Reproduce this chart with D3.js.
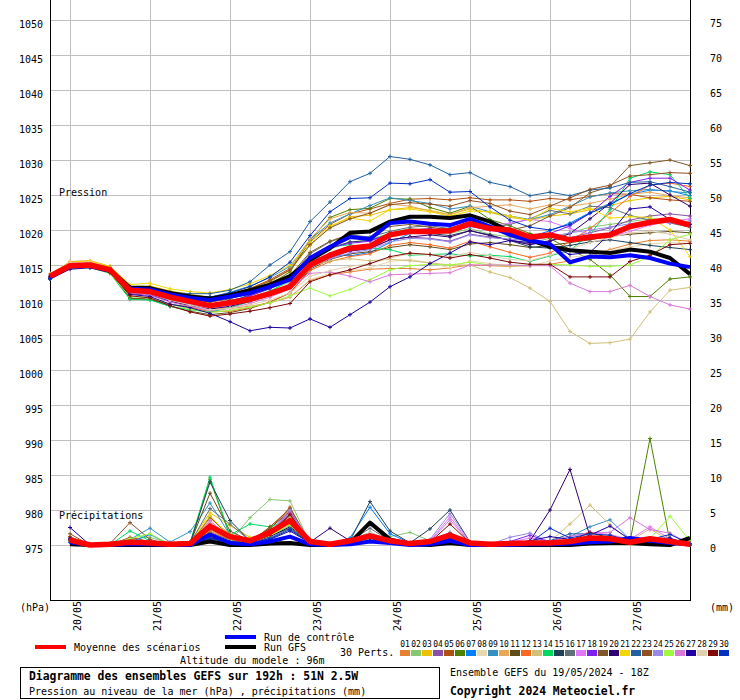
<!DOCTYPE html>
<html><head><meta charset="utf-8">
<script src="https://cdn.jsdelivr.net/npm/d3@7"></script>
<style>
html,body{margin:0;padding:0;background:#fff;}
svg{display:block;}
text{font-family:"DejaVu Sans Mono","Liberation Mono",monospace;fill:#000;}
</style></head><body>
<div id="chart"></div>
<script>
// ---------- DATA ----------
const dayLabels = ['20/05','21/05','22/05','23/05','24/05','25/05','26/05','27/05'];
const dayIdx = [1,5,9,13,17,21,25,29]; // 6-hourly step index of 00Z each day
const presTicks = [975,980,985,990,995,1000,1005,1010,1015,1020,1025,1030,1035,1040,1045,1050];
const precTicks = [0,5,10,15,20,25,30,35,40,45,50,55,60,65,70,75];
const pertColors = ['#e88030','#88c870','#f0c000','#8850a8','#b05010','#508000','#0080ff','#e8d8b0','#3890c0','#e8a858',
  '#604c18','#f86820','#d0c078','#00d860','#204058','#607078','#e078f8','#8020f0','#805828','#300070',
  '#f0d800','#2060a0','#905020','#9888e8','#a0f840','#d878d8','#2000a0','#e0d0b0','#800808','#0030c0'];

// Sea level pressure (hPa), 33 steps of 6 h from 19/05 18Z
const slpMean = [1013.4,1014.9,1015.0,1014.3,1011.4,1011.2,1010.4,1009.8,1009.2,1009.6,1010.1,1010.9,1011.9,1015.0,1016.4,1017.4,1017.7,1019.3,1019.8,1019.8,1019.9,1020.9,1020.2,1020.0,1019.0,1019.3,1018.6,1019.0,1019.3,1020.5,1021.1,1021.5,1020.7];
const slpCtrl = [1013.2,1014.8,1014.9,1014.2,1011.6,1011.5,1010.8,1010.3,1010.0,1010.5,1011.0,1011.9,1012.9,1016.0,1017.6,1019.0,1018.7,1021.0,1021.2,1020.9,1020.7,1021.6,1020.5,1019.3,1018.5,1018.0,1015.4,1016.2,1016.1,1016.4,1016.0,1015.2,1014.7];
const slpGfs  = [1013.3,1014.9,1015.0,1014.3,1011.8,1011.7,1011.0,1010.5,1010.2,1010.7,1011.4,1012.2,1013.4,1015.7,1017.4,1019.6,1019.8,1021.2,1021.9,1021.9,1021.7,1022.1,1021.2,1019.8,1018.6,1017.6,1017.1,1016.9,1016.7,1017.2,1016.9,1016.0,1013.7];
const slp01 = [1013.6,1015.5,1015.6,1014.8,1011.8,1011.4,1010.2,1009.4,1008.7,1008.8,1009.1,1009.6,1010.4,1012.8,1013.6,1014.0,1014.4,1014.5,1014.5,1014.3,1014.6,1015.0,1014.9,1014.8,1014.9,1015.1,1015.6,1016.3,1017.2,1018.0,1018.5,1018.6,1018.4];
const slp02 = [1013.2,1014.7,1015.1,1014.4,1011.0,1010.8,1010.0,1009.5,1009.0,1009.5,1010.3,1011.3,1012.6,1015.8,1017.3,1018.2,1018.6,1019.6,1020.2,1019.9,1019.5,1020.2,1019.4,1019.0,1018.2,1018.8,1019.6,1020.4,1020.8,1021.2,1021.6,1021.4,1020.9];
const slp03 = [1013.3,1015.0,1015.2,1014.6,1011.9,1012.0,1011.3,1010.8,1010.4,1010.9,1011.7,1012.8,1014.2,1017.8,1020.4,1021.9,1022.1,1022.9,1023.2,1022.8,1022.2,1023.0,1022.5,1021.8,1021.4,1022.0,1022.3,1022.9,1023.5,1024.2,1024.6,1024.8,1024.3];
const slp04 = [1013.5,1015.2,1015.3,1014.4,1011.3,1011.0,1010.1,1009.5,1009.0,1009.3,1009.9,1010.7,1011.8,1014.6,1016.0,1017.0,1017.3,1018.6,1019.0,1018.8,1018.4,1019.4,1019.0,1018.6,1018.0,1018.5,1018.9,1019.6,1020.3,1021.4,1022.0,1022.3,1022.0];
const slp05 = [1013.4,1015.1,1015.3,1014.7,1011.9,1011.8,1011.0,1010.5,1010.1,1010.7,1011.6,1012.9,1014.5,1018.3,1020.8,1022.3,1023.0,1023.8,1024.4,1024.5,1024.3,1024.6,1024.3,1024.3,1024.1,1024.5,1024.3,1024.8,1025.2,1025.1,1024.6,1024.3,1024.1];
const slp06 = [1013.0,1014.6,1015.0,1014.3,1010.3,1010.1,1009.4,1009.0,1008.8,1009.6,1010.8,1012.3,1014.0,1018.5,1021.8,1022.9,1023.1,1024.5,1024.4,1023.2,1022.4,1023.4,1021.5,1020.6,1019.5,1018.8,1017.2,1015.8,1013.6,1010.5,1010.5,1013.0,1013.3];
const slp07 = [1013.1,1014.6,1014.9,1014.2,1011.2,1011.1,1010.5,1010.1,1009.8,1010.3,1011.0,1011.8,1013.0,1015.6,1016.5,1016.3,1016.8,1018.2,1019.5,1019.9,1020.3,1021.0,1020.4,1019.8,1019.0,1019.9,1021.0,1022.5,1023.8,1025.1,1025.7,1025.6,1024.9];
const slp08 = [1013.8,1015.4,1015.2,1014.3,1011.2,1010.9,1009.9,1009.2,1008.4,1008.6,1009.0,1009.6,1010.5,1012.9,1013.8,1014.2,1014.6,1015.5,1015.8,1015.3,1014.6,1015.6,1015.2,1014.9,1014.8,1015.6,1016.1,1016.4,1017.0,1017.6,1018.0,1018.2,1018.1];
const slp09 = [1013.2,1014.8,1015.0,1014.5,1011.6,1011.6,1011.0,1010.6,1010.4,1011.1,1012.0,1013.2,1014.8,1018.6,1021.0,1022.3,1023.5,1024.6,1024.2,1023.8,1023.0,1023.4,1022.6,1022.0,1021.5,1022.2,1023.4,1024.7,1025.3,1025.6,1025.8,1025.5,1025.3];
const slp10 = [1013.4,1015.0,1015.4,1014.6,1011.7,1011.4,1010.6,1010.1,1009.7,1010.2,1011.1,1012.5,1014.4,1018.7,1021.6,1022.5,1022.4,1023.7,1023.4,1022.7,1022.2,1023.2,1023.4,1023.6,1023.0,1023.6,1023.4,1023.8,1024.4,1025.1,1025.4,1024.9,1024.6];
const slp11 = [1013.2,1014.7,1014.8,1013.9,1010.2,1010.1,1009.1,1008.4,1007.9,1008.2,1008.8,1009.7,1011.0,1014.4,1015.8,1016.6,1016.9,1017.5,1017.9,1017.6,1017.2,1018.0,1018.2,1017.9,1017.5,1017.8,1018.2,1018.6,1019.1,1019.4,1019.6,1019.8,1019.6];
const slp12 = [1013.5,1015.3,1015.4,1014.5,1011.3,1011.0,1009.9,1009.0,1008.3,1008.4,1008.9,1009.7,1011.0,1014.2,1015.5,1016.2,1016.6,1017.8,1018.2,1017.9,1017.4,1018.4,1017.6,1016.8,1016.1,1016.7,1018.4,1020.2,1022.4,1024.8,1026.4,1026.7,1026.2];
const slp13 = [1013.6,1015.1,1015.0,1014.2,1011.0,1010.7,1009.8,1009.2,1008.6,1009.0,1009.7,1010.8,1012.3,1014.8,1015.6,1015.9,1015.6,1015.8,1015.6,1015.3,1015.0,1015.0,1014.0,1013.2,1011.7,1009.8,1005.5,1003.8,1003.9,1004.4,1008.3,1011.4,1011.8];
const slp14 = [1013.0,1014.5,1014.7,1013.8,1010.1,1010.0,1009.1,1008.6,1008.3,1008.9,1009.8,1011.2,1012.9,1016.2,1017.6,1017.9,1017.4,1017.2,1016.4,1016.5,1016.6,1016.3,1016.4,1016.2,1015.5,1016.3,1017.1,1019.4,1022.9,1027.4,1028.3,1027.9,1024.5];
const slp15 = [1013.3,1014.8,1015.0,1014.3,1011.5,1011.3,1010.5,1009.9,1009.4,1009.9,1010.6,1011.6,1012.9,1016.0,1017.4,1018.3,1018.5,1019.4,1019.8,1019.5,1019.2,1019.9,1019.3,1018.5,1017.6,1017.4,1017.8,1018.3,1018.6,1018.2,1017.8,1017.5,1017.2];
const slp16 = [1013.4,1014.9,1015.1,1014.4,1011.6,1011.5,1010.7,1010.2,1009.8,1010.2,1010.9,1011.9,1013.2,1016.6,1018.3,1019.3,1019.0,1019.8,1020.4,1020.6,1020.2,1021.1,1020.3,1020.8,1021.6,1022.8,1022.3,1023.4,1023.2,1022.1,1021.4,1021.0,1020.4];
const slp17 = [1013.6,1015.2,1015.3,1014.5,1011.1,1010.8,1009.9,1009.3,1008.8,1009.1,1009.8,1010.8,1012.3,1015.4,1016.5,1017.2,1017.6,1019.2,1019.9,1020.1,1019.6,1021.2,1020.6,1021.0,1021.5,1021.2,1020.2,1019.4,1019.0,1019.8,1020.7,1021.2,1021.6];
const slp18 = [1013.2,1014.7,1014.9,1014.2,1011.2,1011.1,1010.3,1009.7,1009.3,1009.8,1010.6,1011.7,1013.1,1016.2,1017.5,1018.1,1018.4,1019.5,1020.0,1020.2,1019.7,1020.5,1020.0,1019.4,1018.9,1019.5,1020.6,1022.4,1024.8,1026.8,1027.4,1027.4,1025.7];
const slp19 = [1013.5,1015.0,1015.1,1014.5,1011.5,1011.3,1010.6,1010.1,1009.7,1010.2,1011.0,1012.0,1013.5,1016.8,1018.4,1019.4,1019.7,1020.5,1020.8,1020.4,1020.0,1020.7,1020.2,1020.0,1020.6,1022.0,1023.2,1025.3,1026.2,1029.2,1029.6,1030.0,1029.2];
const slp20 = [1013.3,1014.8,1014.9,1014.1,1010.9,1010.7,1009.8,1009.2,1008.7,1009.1,1009.8,1010.7,1011.9,1015.0,1016.3,1017.0,1017.4,1018.6,1019.0,1019.3,1019.0,1019.9,1019.2,1018.5,1017.9,1018.4,1019.5,1021.6,1023.8,1026.5,1026.7,1025.0,1023.4];
const slp21 = [1013.7,1015.4,1015.6,1014.8,1012.2,1012.4,1011.6,1011.2,1011.0,1011.5,1012.3,1013.5,1015.0,1018.2,1020.6,1021.7,1021.3,1022.9,1023.0,1022.6,1022.0,1022.7,1022.6,1022.0,1021.4,1023.1,1022.6,1023.1,1021.7,1021.9,1021.8,1020.0,1016.2];
const slp22 = [1013.2,1014.6,1014.8,1014.3,1011.7,1011.6,1011.1,1010.9,1010.9,1011.4,1012.6,1015.0,1016.9,1021.2,1024.0,1026.9,1028.1,1030.5,1030.1,1029.3,1027.9,1028.2,1026.8,1026.2,1024.9,1025.4,1024.9,1025.7,1026.0,1026.8,1026.9,1026.2,1025.4];
const slp23 = [1013.4,1015.0,1015.2,1014.6,1011.8,1011.7,1010.9,1010.4,1010.0,1010.6,1011.5,1012.7,1014.3,1017.9,1020.3,1021.6,1022.4,1023.6,1023.9,1023.7,1023.4,1024.2,1023.8,1022.7,1022.2,1023.4,1024.6,1025.8,1026.4,1027.7,1027.9,1028.2,1028.1];
const slp24 = [1013.4,1014.9,1015.0,1014.2,1011.1,1010.9,1010.0,1009.5,1009.0,1009.3,1009.9,1010.8,1012.0,1014.8,1015.9,1016.7,1017.2,1018.3,1018.8,1018.7,1018.3,1019.3,1018.9,1018.7,1018.5,1019.0,1019.6,1020.0,1020.4,1020.9,1021.2,1021.0,1021.3];
const slp25 = [1013.1,1014.5,1014.6,1013.8,1010.5,1010.3,1009.4,1008.7,1008.2,1008.5,1009.0,1009.6,1010.6,1011.7,1010.6,1011.5,1012.9,1014.3,1014.9,1015.1,1015.0,1015.4,1015.0,1014.9,1015.0,1015.1,1015.0,1014.8,1014.8,1015.0,1016.2,1018.6,1019.4];
const slp26 = [1013.5,1015.1,1015.2,1014.4,1011.0,1010.7,1009.7,1009.1,1008.5,1008.8,1009.5,1010.4,1011.6,1013.8,1014.0,1013.4,1012.6,1013.6,1013.7,1013.8,1013.9,1015.0,1015.0,1015.0,1014.9,1014.9,1012.4,1011.2,1011.2,1012.1,1010.5,1009.3,1008.7];
const slp27 = [1013.0,1014.4,1014.6,1013.9,1010.8,1010.5,1009.4,1008.9,1008.1,1006.9,1005.6,1006.1,1006.0,1007.3,1006.1,1007.9,1009.7,1011.9,1013.3,1015.2,1016.7,1018.3,1017.9,1018.5,1018.2,1017.8,1016.5,1016.8,1019.5,1023.0,1023.3,1021.5,1020.8];
const slp28 = [1013.7,1015.3,1015.4,1014.5,1011.4,1011.0,1010.0,1009.3,1008.6,1008.8,1009.3,1010.0,1011.0,1013.4,1014.2,1014.8,1015.2,1016.0,1016.6,1016.5,1016.2,1016.8,1016.3,1015.8,1015.6,1016.4,1017.3,1018.2,1018.9,1019.6,1019.8,1019.4,1018.6];
const slp29 = [1013.3,1014.8,1014.9,1014.0,1010.6,1010.3,1009.2,1008.3,1007.7,1008.0,1008.4,1008.9,1009.5,1012.6,1013.6,1014.3,1015.2,1016.2,1016.7,1016.5,1016.0,1016.5,1016.0,1015.4,1015.1,1015.1,1013.3,1013.3,1013.3,1015.5,1016.4,1017.9,1018.1];
const slp30 = [1013.1,1014.6,1014.8,1014.2,1011.6,1011.5,1010.8,1010.5,1010.4,1011.0,1011.9,1013.3,1015.4,1019.2,1022.6,1024.5,1024.6,1026.7,1026.6,1027.2,1025.4,1025.5,1023.3,1021.4,1020.4,1020.0,1020.8,1022.4,1023.6,1025.2,1026.4,1026.8,1026.6];

// 6-hour precipitation (mm), 32 steps from 20/05 00Z
const rrMean = [0.7,0,0.1,0.4,0.3,0.1,0.2,2.7,1.2,0.6,1.8,3.5,0.5,0.1,0.6,1.3,0.6,0.2,0.5,1.4,0.3,0.1,0.2,0.3,0.3,0.5,1.0,0.9,0.4,0.9,0.5,0.1];
const rrCtrl = [0.4,0,0,0.1,0.1,0,0,1.5,0.3,0.1,0.5,1.2,0.1,0,0.1,0.5,0.3,0,0.1,0.6,0,0,0,0.1,0.1,0.2,0.4,0.5,1.0,0.6,0.3,0.1];
const rrGfs  = [0.1,0,0,0,0,0,0,0.5,0,0,0.2,0.3,0,0,0.3,3.2,0.8,0.1,0,0.3,0,0,0,0,0,0,0.2,0.3,0.3,0.1,0,1.0];
const rr01 = [0.8,0,0.1,0.6,0.3,0,0.2,2.0,0.8,0.3,1.6,3.4,0.3,0,0.5,1.2,0.4,0.1,0.3,1.0,0.2,0,0.1,0.2,0.2,0.4,0.8,0.7,0.3,0.6,0.4,0];
const rr02 = [0.5,0,0,0.9,1.1,0.2,0.3,1.2,0.5,3.9,6.5,6.3,0.3,0,0.8,1.0,1.2,1.8,0.6,1.3,0.2,0,0,0.1,0.2,0.3,0.6,0.7,0.5,0.4,0.6,0];
const rr03 = [0.6,0,0,0.5,0.4,0,0.3,4.6,2.8,1.1,1.4,3.0,0.8,0.2,0.4,1.4,0.6,0.2,0.4,1.2,0.3,0,0.1,0.3,0.2,0.5,0.9,0.8,0.2,0.5,0.3,0.1];
const rr04 = [0.7,0,0.1,0.5,0.3,0,0.2,2.5,0.9,0.4,1.9,4.6,0.4,0.1,0.6,1.6,0.5,0.2,0.5,1.8,0.2,0,0.2,0.4,0.3,0.6,1.1,1.0,0.4,0.8,0.4,0];
const rr05 = [1.2,0,0,1.1,0.5,0,0.2,3.0,1.0,0.5,2.2,5.4,0.3,0,0.3,1.1,0.4,0.1,0.4,1.2,0.2,0,0.1,0.2,0.2,0.4,0.9,0.8,0.3,0.7,0.3,0];
const rr06 = [0.5,0,0,0.3,0.2,0,0.1,9.4,1.2,0.4,1.3,2.4,0.2,0,0.4,0.9,0.3,0.1,0.3,0.8,0.1,0,0.1,0.2,0.1,0.3,0.7,0.6,0.5,15.2,0.4,0];
const rr07 = [0.4,0,0.1,0.4,1.5,0.1,0.3,1.0,0.4,0.2,1.2,2.8,0.3,0.1,1.0,5.4,1.6,0.3,0.5,1.0,0.2,0,0.1,0.2,0.3,0.6,1.0,1.2,0.7,0.9,0.5,0.1];
const rr08 = [0.6,0,0,0.5,0.3,0,0.2,3.4,1.0,0.3,1.8,3.8,0.3,0,0.5,1.8,0.5,0.1,0.4,1.5,0.2,0,0.1,0.3,0.2,0.4,1.0,0.9,0.3,0.6,0.3,0];
const rr09 = [0.6,0,0.2,0.8,2.4,0.4,1.9,6.0,1.4,0.5,1.4,3.4,0.4,0,0.4,1.5,0.6,0.2,0.5,1.6,0.2,0,0.1,0.5,0.6,1.2,2.6,3.6,0.8,0.9,0.5,0];
const rr10 = [0.9,0,0,0.6,0.4,0,0.2,3.8,1.6,0.5,1.6,4.0,0.4,0,0.4,1.3,0.5,0.1,0.4,1.4,0.3,0,0.1,0.3,0.3,0.5,1.2,1.4,0.4,0.8,0.4,0];
const rr11 = [0.8,0,0,0.6,0.3,0,0.2,7.4,2.0,0.6,2.4,4.8,0.4,0,0.5,1.4,0.4,0.1,0.4,1.3,0.2,0,0.1,0.2,0.2,0.5,1.0,0.8,0.3,0.6,0.3,0];
const rr12 = [0.9,0,0,0.6,0.3,0,0.2,2.2,0.8,0.4,2.6,5.0,0.5,0,0.4,1.2,0.4,0.1,0.4,1.6,0.2,0,0.1,0.2,0.3,0.5,1.1,0.9,0.3,0.6,0.3,0];
const rr13 = [0.5,0,0,0.4,0.3,0,0.2,1.5,0.6,0.3,1.4,3.2,0.3,0,0.4,1.0,0.4,0.1,0.3,1.1,0.2,0,0.1,0.3,0.5,3.0,5.7,2.9,0.6,2.3,0.6,0];
const rr14 = [0.5,0,0,2.0,0.6,0,0.3,9.7,1.4,3.0,2.6,3.6,0.3,0,0.5,1.5,0.5,0.1,0.4,1.4,0.2,0,0.1,0.2,0.2,0.4,0.9,0.8,0.3,0.7,0.4,0];
const rr15 = [0.7,0,0,0.5,0.3,0,0.2,9.0,3.5,0.6,1.8,4.2,0.4,0,0.6,6.2,2.0,0.3,2.3,5.0,0.4,0,0.1,0.3,0.3,0.6,1.2,1.0,0.3,0.7,0.3,0];
const rr16 = [0.6,0,0,0.7,0.4,0,0.2,5.2,3.0,0.6,1.6,3.8,0.4,0,0.5,2.4,0.6,0.1,0.4,1.6,0.2,0,0.1,0.3,0.3,0.5,1.0,0.9,0.3,0.6,0.3,0];
const rr17 = [0.6,0,0,0.5,0.3,0,0.2,3.0,1.0,0.4,1.8,4.4,0.4,0,0.5,1.4,0.5,0.2,0.6,4.0,0.3,0,0.4,1.0,0.6,1.2,1.8,1.5,0.8,2.6,0.9,0.1];
const rr18 = [0.7,0,0,0.5,0.3,0,0.2,2.4,0.9,0.4,1.9,4.6,0.4,0,0.4,1.2,0.5,0.2,0.4,1.4,0.2,0,0.5,1.4,0.4,0.6,1.0,0.9,0.4,0.7,0.4,0];
const rr19 = [0.9,0,0,0.8,0.4,0,0.2,4.0,1.2,0.5,2.0,4.2,0.4,0,0.4,1.3,0.4,0.1,0.4,1.3,0.2,0,0.1,0.2,0.2,0.4,0.9,0.8,0.3,0.6,0.3,0];
const rr20 = [1.0,0,0,0.4,0.3,0,0.2,1.0,0.5,0.2,1.2,2.6,0.4,2.4,0.6,1.0,0.4,0.1,0.3,0.9,0.2,0,0.2,0.6,5.0,10.8,1.2,0.9,0.4,0.6,0.4,0];
const rr21 = [0.6,0,0,0.5,0.3,0,0.2,4.2,1.2,0.4,1.6,3.8,0.4,0,0.5,1.4,0.5,0.1,0.4,1.2,0.2,0,0.1,0.2,0.2,0.4,0.8,0.7,0.3,0.6,0.3,0];
const rr22 = [0.6,0,0,0.4,0.3,0,0.2,0.8,0.4,0.2,1.0,2.4,0.4,0,0.6,1.8,0.6,0.2,0.4,1.2,0.3,0,0.2,0.4,0.6,1.6,1.6,1.2,0.5,0.8,0.4,0];
const rr23 = [1.6,0,0.2,3.2,0.8,0,0.3,1.8,0.7,0.3,2.6,5.2,0.4,0,0.4,1.2,0.4,0.1,0.4,1.4,0.2,0,0.1,0.2,0.2,0.5,1.0,0.8,0.3,0.6,0.3,0];
const rr24 = [0.6,0,0,0.5,0.3,0,0.2,2.8,1.0,0.4,1.8,5.0,0.4,0.1,0.6,1.6,0.6,0.3,0.8,4.5,0.4,0.1,1.1,1.7,0.4,0.6,1.2,1.1,0.6,1.0,0.5,0];
const rr25 = [0.5,0,0,0.9,1.6,0.1,0.2,1.6,0.6,0.3,1.3,2.8,0.3,0,0.6,1.6,0.5,0.2,0.3,1.0,0.2,0,0.1,0.2,0.2,0.4,0.8,0.7,0.5,0.9,4.1,0.6];
const rr26 = [0.6,0,0,0.5,0.3,0,0.2,3.5,1.0,0.4,1.9,4.6,0.4,0,0.5,1.6,0.5,0.2,0.5,3.6,0.3,0,0.2,0.6,0.5,1.2,1.8,1.8,3.9,2.2,1.7,0.1];
const rr27 = [2.5,0,0,0.3,0.2,0,0.1,0.6,0.3,0.1,0.8,2.0,0.3,0,0.4,1.0,0.4,0.1,0.3,0.8,0.2,0,0.2,0.6,1.2,0.8,1.4,2.7,0.8,0.9,1.0,0];
const rr28 = [0.6,0,0,0.5,0.3,0,0.2,2.6,0.9,0.3,1.6,3.8,0.3,0,0.5,1.8,0.5,0.1,0.4,1.4,0.2,0,0.1,0.3,0.3,0.5,1.6,1.2,0.4,0.6,0.4,0];
const rr29 = [0.7,0,0,0.5,0.3,0,0.2,1.3,0.5,0.3,1.4,4.4,0.4,0,0.4,1.1,0.4,0.1,0.4,3.0,0.3,0,0.1,0.3,0.3,0.6,1.8,1.0,0.3,0.6,0.3,0];
const rr30 = [0.4,0,0,0.3,0.2,0,0.1,0.9,0.4,0.2,0.9,2.2,0.3,0,0.5,1.4,0.5,0.1,0.3,0.9,0.2,0,0.1,0.3,2.4,1.0,1.6,1.4,0.6,0.8,1.5,0.2];

const slpPerts = [slp01,slp02,slp03,slp04,slp05,slp06,slp07,slp08,slp09,slp10,slp11,slp12,slp13,slp14,slp15,slp16,slp17,slp18,slp19,slp20,slp21,slp22,slp23,slp24,slp25,slp26,slp27,slp28,slp29,slp30];
const rrPerts = [rr01,rr02,rr03,rr04,rr05,rr06,rr07,rr08,rr09,rr10,rr11,rr12,rr13,rr14,rr15,rr16,rr17,rr18,rr19,rr20,rr21,rr22,rr23,rr24,rr25,rr26,rr27,rr28,rr29,rr30];

// ---------- CHART ----------
const W = 740, H = 700;
const svg = d3.select('#chart').append('svg').attr('width', W).attr('height', H);
svg.append('rect').attr('width', W).attr('height', H).attr('fill', '#fff');

const x = d3.scaleLinear().domain([0, 32]).range([50, 690]);
const yP = d3.scaleLinear().domain([975, 1050]).range([545, 20]);
const yR = d3.scaleLinear().domain([0, 75]).range([545, 20]);

// bottom axis with vertical grid
const gx = svg.append('g').attr('transform', 'translate(0,600)')
  .call(d3.axisBottom(x).tickValues(dayIdx).tickFormat(d => dayLabels[dayIdx.indexOf(d)]).tickSize(-600).tickSizeOuter(0));
gx.select('.domain').remove();
gx.selectAll('line').attr('stroke', '#c0c0c0');
gx.selectAll('text').attr('y', 0).attr('dy', null).attr('font-size', 10)
  .attr('transform', 'translate(10,1) rotate(-90)').style('text-anchor', 'end');

// left pressure axis with horizontal grid
const gl = svg.append('g').attr('transform', 'translate(50,0)')
  .call(d3.axisLeft(yP).tickValues(presTicks).tickFormat(d3.format('d')).tickSize(-640).tickPadding(7));
gl.select('.domain').remove();
gl.selectAll('line').attr('stroke', '#c0c0c0');
gl.selectAll('text').attr('dy', 7).attr('font-size', 10);

// right precip axis
const gr = svg.append('g').attr('transform', 'translate(690,0)')
  .call(d3.axisRight(yR).tickValues(precTicks).tickFormat(d3.format('d')).tickSize(0).tickPadding(20));
gr.select('.domain').remove();
gr.selectAll('line').remove();
gr.selectAll('text').attr('dy', 6).attr('font-size', 10);

// axis frame
const frame = svg.append('g').attr('stroke', '#000').attr('stroke-width', 1).attr('shape-rendering', 'crispEdges');
frame.append('line').attr('x1', 50.5).attr('x2', 50.5).attr('y1', 0).attr('y2', 601);
frame.append('line').attr('x1', 690.5).attr('x2', 690.5).attr('y1', 0).attr('y2', 601);
frame.append('line').attr('x1', 50).attr('x2', 691).attr('y1', 600.5).attr('y2', 600.5);

// series helpers
const lineP = d3.line().x((d, i) => x(i)).y(d => yP(d));
const lineR = d3.line().x((d, i) => x(i + 1)).y(d => yR(d));
function crosses(arr, fx, fy) {
  return arr.map((d, i) => { const px = fx(i), py = fy(d); return `M${px-2},${py}h4M${px},${py-2}v4`; }).join('');
}
const plot = svg.append('g').attr('fill', 'none');

slpPerts.forEach((s, k) => {
  plot.append('path').attr('d', lineP(s)).attr('stroke', pertColors[k]).attr('stroke-width', 1);
  plot.append('path').attr('d', crosses(s, i => x(i), yP)).attr('stroke', pertColors[k]).attr('stroke-width', 1);
});
rrPerts.forEach((s, k) => {
  plot.append('path').attr('d', lineR(s)).attr('stroke', pertColors[k]).attr('stroke-width', 1);
  plot.append('path').attr('d', crosses(s, i => x(i + 1), yR)).attr('stroke', pertColors[k]).attr('stroke-width', 1);
});

const mains = [
  {p: slpGfs, r: rrGfs, c: '#000000', w: 4},
  {p: slpCtrl, r: rrCtrl, c: '#0000ff', w: 4},
  {p: slpMean, r: rrMean, c: '#ff0000', w: 5.5}
];
mains.forEach(m => {
  plot.append('path').attr('d', lineP(m.p)).attr('stroke', m.c).attr('stroke-width', m.w).attr('stroke-linejoin', 'round');
  plot.append('path').attr('d', lineR(m.r)).attr('stroke', m.c).attr('stroke-width', m.w).attr('stroke-linejoin', 'round');
});

// in-plot labels
svg.append('text').attr('x', 59).attr('y', 196).attr('font-size', 10).text('Pression');
svg.append('text').attr('x', 59).attr('y', 519).attr('font-size', 10).text('Précipitations');
svg.append('text').attr('x', 20).attr('y', 611).attr('font-size', 10).text('(hPa)');
svg.append('text').attr('x', 710).attr('y', 611).attr('font-size', 10).text('(mm)');

// legend
const lg = svg.append('g');
lg.append('line').attr('x1', 35).attr('x2', 66).attr('y1', 647).attr('y2', 647).attr('stroke', '#ff0000').attr('stroke-width', 4);
lg.append('text').attr('x', 74).attr('y', 651).attr('font-size', 10).text('Moyenne des scénarios');
lg.append('line').attr('x1', 225).attr('x2', 256).attr('y1', 637).attr('y2', 637).attr('stroke', '#0000ff').attr('stroke-width', 4);
lg.append('text').attr('x', 264).attr('y', 641).attr('font-size', 10).text('Run de contrôle');
lg.append('line').attr('x1', 225).attr('x2', 256).attr('y1', 647).attr('y2', 647).attr('stroke', '#000').attr('stroke-width', 4);
lg.append('text').attr('x', 264).attr('y', 651).attr('font-size', 10).text('Run GFS');
lg.append('text').attr('x', 180).attr('y', 664).attr('font-size', 10).text('Altitude du modele : 96m');
lg.append('text').attr('x', 340).attr('y', 656).attr('font-size', 10).text('30 Perts.');
pertColors.forEach((c, k) => {
  lg.append('rect').attr('x', 400 + 11 * k).attr('y', 650).attr('width', 10).attr('height', 6).attr('fill', c);
  lg.append('text').attr('x', 405 + 11 * k).attr('y', 647).attr('font-size', 8).attr('text-anchor', 'middle')
    .text(String(k + 1).padStart(2, '0'));
});

// title box
svg.append('rect').attr('x', 20.5).attr('y', 667.5).attr('width', 419).attr('height', 31).attr('fill', 'none').attr('stroke', '#000');
svg.append('text').attr('x', 29).attr('y', 680).attr('font-size', 11.4).attr('font-weight', 'bold')
  .text('Diagramme des ensembles GEFS sur 192h : 51N 2.5W');
svg.append('text').attr('x', 29).attr('y', 695).attr('font-size', 10)
  .text('Pression au niveau de la mer (hPa) , précipitations (mm)');
svg.append('text').attr('x', 450).attr('y', 676).attr('font-size', 10).text('Ensemble GEFS du 19/05/2024 - 18Z');
svg.append('text').attr('x', 450).attr('y', 695).attr('font-size', 11.4).attr('font-weight', 'bold')
  .text('Copyright 2024 Meteociel.fr');
</script>
</body></html>
